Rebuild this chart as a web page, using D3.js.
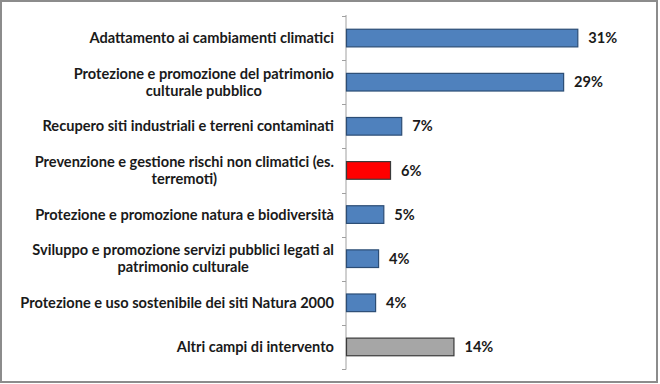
<!DOCTYPE html>
<html><head><meta charset="utf-8">
<script src="https://cdn.jsdelivr.net/npm/d3@7"></script>
<style>html,body{margin:0;padding:0;background:#fff;}svg{display:block;}</style>
</head><body>
<svg id="c" width="660" height="384"></svg>
<script>
const categories = [
  ["Adattamento ai cambiamenti climatici"],
  ["Protezione e promozione del patrimonio", "culturale pubblico"],
  ["Recupero siti industriali e terreni contaminati"],
  ["Prevenzione e gestione rischi non climatici (es.", "terremoti)"],
  ["Protezione e promozione natura e biodiversità"],
  ["Sviluppo e promozione servizi pubblici legati al", "patrimonio culturale"],
  ["Protezione e uso sostenibile dei siti Natura 2000"],
  ["Altri campi di intervento"]
];
const values = [31.0, 29.1, 7.4, 5.9, 5.0, 4.3, 3.9, 14.4];
const valueLabels = ["31%", "29%", "7%", "6%", "5%", "4%", "4%", "14%"];
const colorGroups = ["main", "main", "main", "highlight", "main", "main", "main", "other"];

const fills = {main: "#4f81bd", highlight: "#ff0000", other: "#a6a6a6"};
const strokes = {main: "#2c4d75", highlight: "#3a3a3a", other: "#3a3a3a"};

const svg = d3.select("#c");
const W = 660, H = 384;
svg.append("rect").attr("x", 1).attr("y", 1).attr("width", W - 4).attr("height", H - 3)
  .attr("fill", "#fff").attr("stroke", "#8c8c8c").attr("stroke-width", 2);

const x0 = 346;
const idx = d3.range(categories.length);
const y = d3.scaleBand().domain(idx).range([16, 369]).paddingInner(0.6).paddingOuter(0.3);
const yb = d3.scaleBand().domain(idx).range([16, 369]);
const x = d3.scaleLinear().domain([0, 31]).range([x0, 577.3]);

const font = "Lato, 'Liberation Sans', sans-serif";
const fs = 14.6;

// axis line + ticks
const g = svg.append("g");
g.append("line").attr("x1", x0).attr("x2", x0).attr("y1", 15).attr("y2", 369.5)
  .attr("stroke", "#a0a0a0").attr("stroke-width", 1);
const tickYs = idx.map(i => yb(i)).concat([yb.range()[1]]);
g.selectAll("line.tk").data(tickYs).join("line").attr("class", "tk")
  .attr("x1", x0 - 4).attr("x2", x0).attr("y1", d => Math.round(d) + 0.5).attr("y2", d => Math.round(d) + 0.5)
  .attr("stroke", "#a0a0a0");

// bars
svg.selectAll("rect.bar").data(idx).join("rect").attr("class", "bar")
  .attr("x", x0 + 0.5).attr("y", i => y(i))
  .attr("width", i => x(values[i]) - x0).attr("height", y.bandwidth())
  .attr("fill", i => fills[colorGroups[i]]).attr("stroke", i => strokes[colorGroups[i]]).attr("stroke-width", 1.2);

// value labels
svg.selectAll("text.val").data(idx).join("text").attr("class", "val")
  .attr("x", i => x(values[i]) + 11).attr("y", i => yb(i) + yb.bandwidth() / 2)
  .attr("dy", "0.35em").attr("font-family", font).attr("font-weight", "bold").attr("font-size", fs)
  .attr("fill", "#1a1a1a").text(i => valueLabels[i]);

// category labels
const right = 334, lh = 17;
idx.forEach(i => {
  const lines = categories[i];
  const cy = yb(i) + yb.bandwidth() / 2;
  const t = svg.append("g");
  const texts = lines.map((s, k) => t.append("text")
    .attr("font-family", font).attr("font-weight", "bold").attr("font-size", fs)
    .attr("fill", "#1a1a1a").attr("text-anchor", "middle")
    .attr("y", cy + (k - (lines.length - 1) / 2) * lh).attr("dy", "0.35em").text(s));
  const maxW = d3.max(texts, tx => tx.node().getComputedTextLength());
  texts.forEach(tx => tx.attr("x", right - maxW / 2));
});
</script>
</body></html>
